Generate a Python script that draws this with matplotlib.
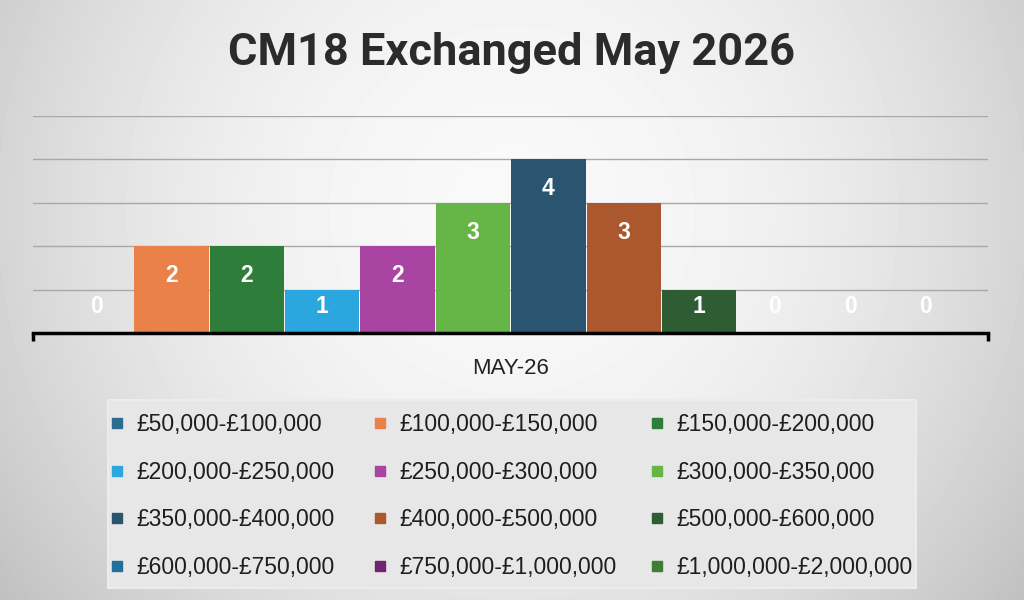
import matplotlib.pyplot as plt
import numpy as np
from matplotlib.lines import Line2D
from matplotlib.patches import Rectangle

title = 'CM18 Exchanged May 2026'
category = 'MAY-26'
price_bands = ['£50,000-£100,000', '£100,000-£150,000', '£150,000-£200,000',
               '£200,000-£250,000', '£250,000-£300,000', '£300,000-£350,000',
               '£350,000-£400,000', '£400,000-£500,000', '£500,000-£600,000',
               '£600,000-£750,000', '£750,000-£1,000,000', '£1,000,000-£2,000,000']
exchanged = [0, 2, 2, 1, 2, 3, 4, 3, 1, 0, 0, 0]
colours = ['#2e6d92', '#ea8148', '#2e7d3b', '#2ba6de', '#a944a3', '#66b547',
           '#2a5470', '#ab582e', '#2e5c33', '#236f9c', '#6e2670', '#3f7d36']

plt.rcParams['font.family'] = ['Liberation Sans', 'DejaVu Sans']

fig = plt.figure(figsize=(10.24, 6), dpi=100)

# soft grey background gradient
bg = fig.add_axes([0, 0, 1, 1], zorder=-10)
yy, xx = np.mgrid[0:1:300j, 0:1:512j]
r = ((xx - 0.5) / 0.58) ** 2 + ((yy - 0.35) / 1.0) ** 2
shade = np.clip(0.975 - 0.19 * r, 0.75, 1.0)
bg.imshow(shade, cmap='gray', vmin=0, vmax=1, aspect='auto', extent=[0, 1, 0, 1], origin='upper')
bg.axis('off')

ax = fig.add_axes([33 / 1024, 1 - 333 / 600, 955 / 1024, 217 / 600])
ax.patch.set_alpha(0)

x = np.arange(len(exchanged))
bars = ax.bar(x, exchanged, width=0.985, color=colours, zorder=3)

for xi, v in zip(x, exchanged):
    ax.text(xi, max(v - 0.68, 0.6), str(v), ha='center', va='center',
            color='white', fontsize=16.5, fontweight='bold', zorder=4)

ax.set_ylim(0, 5)
ax.set_xlim(-0.836, 11.83)
ax.set_yticks(range(0, 6))
ax.yaxis.grid(True, color='#a8a8a8', linewidth=1, zorder=0)
ax.tick_params(axis='y', length=0, labelleft=False)

for s in ['top', 'left', 'right']:
    ax.spines[s].set_visible(False)
ax.spines['bottom'].set_color('black')
ax.spines['bottom'].set_linewidth(2.5)
ax.spines['bottom'].set_zorder(5)

ax.set_xticks([-0.836, 11.83])
ax.set_xticklabels(['', ''])
ax.tick_params(axis='x', which='major', length=6, width=2.5, color='black', direction='out')
ax.set_xticks([5.5], minor=True)
ax.set_xticklabels([category], minor=True, fontsize=16, color='#222222')
ax.tick_params(axis='x', which='minor', length=0, pad=18)

fig.text(0.5, 1 - 53 / 600, title, ha='center', va='center', fontsize=32.5,
         fontweight='bold', color='#2b2b2b', family=['Roboto', 'DejaVu Sans'])

# legend box
fig.patches.append(Rectangle((108 / 1024, 1 - 588 / 600), 808 / 1024, 188 / 600,
                             transform=fig.transFigure, facecolor='#e7e7e7',
                             edgecolor='#ececec', linewidth=1.5, zorder=-5))

col_x = [110, 373, 650]
for c in range(3):
    idx = list(range(c, 12, 3))
    handles = [Line2D([], [], marker='s', linestyle='', markersize=7.5, color=colours[i]) for i in idx]
    labels = [price_bands[i] for i in idx]
    fig.legend(handles, labels, loc='upper left',
               bbox_to_anchor=(col_x[c] / 1024, 1 - 413 / 600),
               frameon=False, fontsize=16.5, handlelength=0.6, handletextpad=0.55,
               labelspacing=1.07, borderpad=0, borderaxespad=0, labelcolor='#1e1e1e')

fig.savefig('out.png', dpi=100)
